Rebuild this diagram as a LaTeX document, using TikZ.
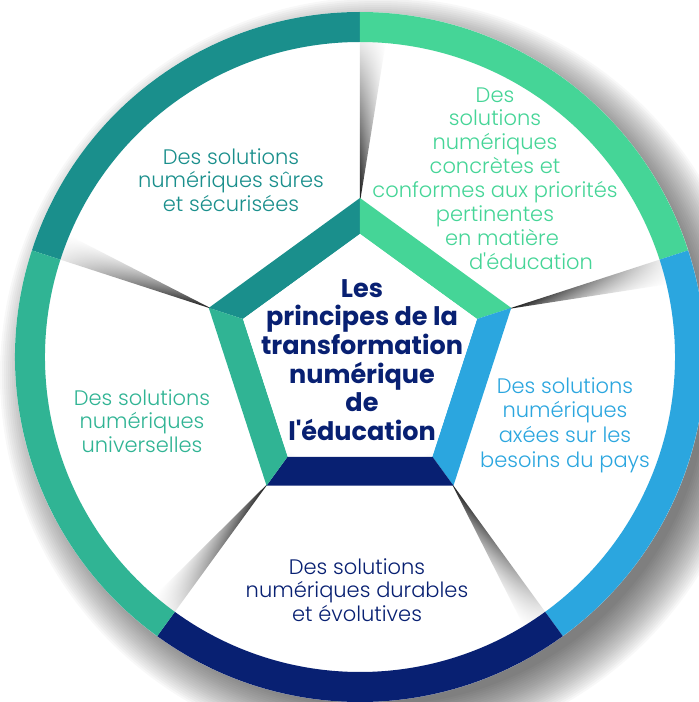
\documentclass[tikz,border=0pt]{standalone}
\usepackage{fontspec}
\setmainfont{Poppins}[UprightFont={* Light}, BoldFont={* Bold}]
\usetikzlibrary{fadings}
\definecolor{cteal}{RGB}{26,143,140}
\definecolor{cgreen}{RGB}{69,213,151}
\definecolor{cblue}{RGB}{43,166,223}
\definecolor{cnavy}{RGB}{8,32,114}
\definecolor{cmint}{RGB}{48,180,148}
\tikzfading[name=fadeout, left color=transparent!0, right color=transparent!92]
\pgfdeclareradialshading{vign}{\pgfpoint{0bp}{0bp}}{color(0bp)=(white); color(28bp)=(white); color(46bp)=(black!35); color(100bp)=(black!35)}
\begin{document}
\begin{tikzpicture}[x=1pt,y=1pt,
  lbl/.style={font=\fontsize{21}{23.5}\selectfont, align=center, inner sep=0pt},
  ttl/.style={font=\fontsize{25.5}{28.7}\selectfont\bfseries, align=center, inner sep=0pt, text=cnavy}]
\useasboundingbox (-360,-345) rectangle (339,357);
\clip (-360,-345) rectangle (339,357);
% soft shadow of the disk
\foreach \i in {0,...,24} { \fill[black, opacity=0.028] (18,-18) circle ({330+\i*2}); }
\fill[white] (0,0) circle (345);
% shadows along the dividers
\foreach \a in {90,18,-54,-126,162} {
  \begin{scope}[transform canvas={rotate=\a}]
    \shade[top color=black!90, bottom color=white, path fading=fadeout] (155,0) -- (316,0) -- (316,-26) -- cycle;
  \end{scope}
}
% ring sectors and pentagon band
\foreach \a/\c in {90/cteal, 18/cgreen, -54/cblue, -126/cnavy, 162/cmint} {
  \fill[\c] (\a:345) arc[start angle=\a, delta angle=72, radius=345] -- ({\a+72}:315) arc[start angle={\a+72}, delta angle=-72, radius=315] -- cycle;
  \fill[\c] (\a:159) -- ({\a+72}:159) -- ({\a+72}:123) -- (\a:123) -- cycle;
}
\shade[shading=vign] (90:123) -- (162:123) -- (234:123) -- (306:123) -- (18:123) -- cycle;
% texts
\node[ttl] (title) at (2,-3) {Les\\principes de la\\transformation\\numérique\\de\\l\textquotesingle éducation};
\node[lbl, text=cteal] (t1) at (-129,177) {Des solutions\\numériques sûres\\et sécurisées};
\node[lbl, text=cgreen, font=\fontsize{21}{23.9}\selectfont] (t2) at (135,178.5) {Des\\solutions\\numériques\\concrètes et\\conformes aux priorités\\pertinentes\\\hspace*{14pt}en matière\\\hspace*{72pt}d\textquotesingle éducation};
\node[lbl, text=cblue, font=\fontsize{21}{24.7}\selectfont] (t3) at (205,-68) {Des solutions\\numériques\\axées sur les\\besoins du pays};
\node[lbl, text=cnavy] (t4) at (-3,-233) {Des solutions\\numériques durables\\et évolutives};
\node[lbl, text=cmint] (t5) at (-218,-64) {Des solutions\\numériques\\universelles};
\end{tikzpicture}
\end{document}
